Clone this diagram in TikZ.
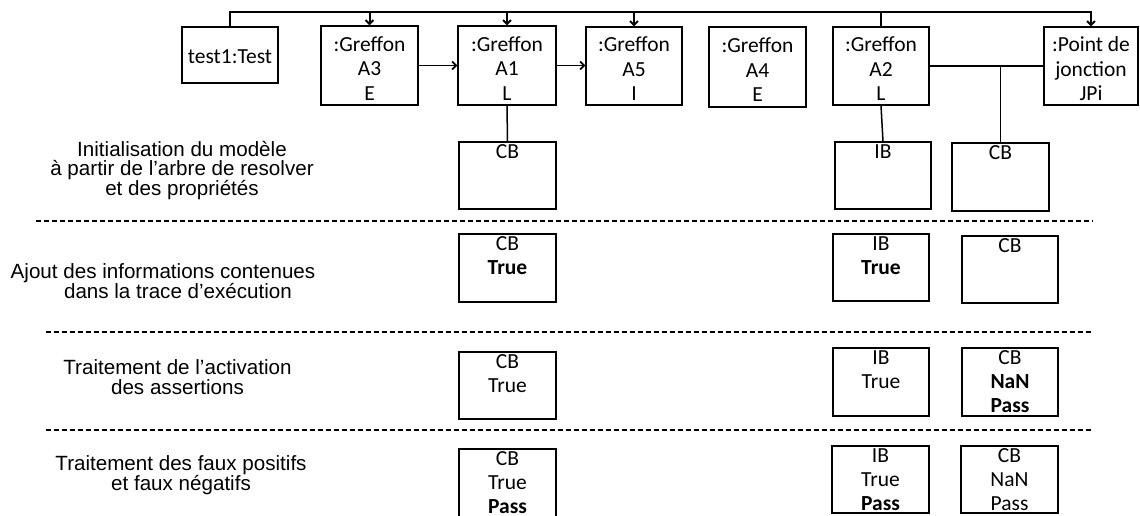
\documentclass[tikz,border=0pt]{standalone}
\usepackage{fontspec}
\newfontfamily\calfont{Carlito}
\newfontfamily\helfont{Liberation Sans}
\usetikzlibrary{arrows.meta}
\newcommand\cellbox[3]{\parbox[c][#2][t]{#1}{\centering\strut #3}}
\newcommand\topbox[4]{\parbox[c][#2][c]{#1}{\centering\vspace*{#3}#4}}
\begin{document}
\begin{tikzpicture}[x=1pt,y=-1pt,
  box/.style={draw, line width=1.1pt, inner sep=0pt, font=\calfont\fontsize{21.5}{24.5}\selectfont},
  cell/.style={draw, line width=1.1pt, inner sep=0pt, font=\calfont\fontsize{21.5}{24}\selectfont},
  lab/.style={font=\helfont\fontsize{20.6}{19.8}\selectfont, align=center, inner sep=0pt},
  conn/.style={line width=1.5pt},
  busline/.style={line width=2pt, -{Straight Barb[length=4pt,width=8pt]}},
  arr/.style={line width=1.8pt, -{Straight Barb[length=4pt,width=8pt]}},
  sep/.style={line width=1.5pt, dash pattern=on 5pt off 3pt}]
\useasboundingbox (0,0) rectangle (1140,516);

% top row
\node[box] (test) at (230,55) {\topbox{96pt}{56pt}{4pt}{test1:Test}};
\node[box] (a3) at (369.5,65.5) {\topbox{97pt}{79pt}{6pt}{:Greffon\\A3\\E}};
\node[box] (a1) at (507,65.5) {\topbox{98pt}{79pt}{6pt}{:Greffon\\A1\\L}};
\node[box] (a5) at (634,66) {\topbox{96pt}{78pt}{6pt}{:Greffon\\A5\\I}};
\node[box] (a4) at (757.5,67) {\topbox{97pt}{80pt}{6pt}{:Greffon\\A4\\E}};
\node[box] (a2) at (881,66) {\topbox{96pt}{78pt}{6pt}{:Greffon\\A2\\L}};
\node[box] (jp) at (1091,66) {\topbox{94pt}{78pt}{6pt}{:Point de\\jonction\\JPi}};

% bus
\coordinate (bus) at (0,12);
\draw[busline] (test.north) |- (jp.north |- bus) -- (jp.north);
\draw[busline] (a3.north |- bus) -- (a3.north);
\draw[busline] (a1.north |- bus) -- (a1.north);
\draw[busline] (a5.north |- bus) -- (a5.north);
\draw[line width=2pt] (a2.north |- bus) -- (a2.north);

\draw[arr] (a3.east) -- (a1.west);
\draw[arr] (a1.east) -- (a1.east -| a5.west);

% row 1
\node[cell] (r1cb) at (507.5,175.5) {\cellbox{97pt}{67pt}{CB}};
\node[cell] (r1ib) at (883,175.5) {\cellbox{96pt}{67pt}{IB}};
\node[cell] (r1cc) at (1000.5,177) {\cellbox{97pt}{68pt}{CB}};

\draw[conn] (a1.south) -- (r1cb.north);
\draw[conn] (a2.south) -- (r1ib.north);
\draw[conn] (a2.east) -- (a2.east -| jp.west);
\draw[conn] (r1cc.north) -- (r1cc.north |- a2.east);

% row 2
\node[cell] (r2cb) at (507.5,268) {\cellbox{97pt}{68pt}{CB\\ \textbf{True}}};
\node[cell] (r2ib) at (881,267.5) {\cellbox{96pt}{67pt}{IB\\ \textbf{True}}};
\node[cell] (r2cc) at (1010,269.5) {\cellbox{96pt}{67pt}{CB}};

% row 3
\node[cell] (r3cb) at (507.5,385.5) {\cellbox{97pt}{67pt}{CB\\ True}};
\node[cell] (r3ib) at (881,382) {\cellbox{96pt}{68pt}{IB\\ True}};
\node[cell] (r3cc) at (1010,382) {\cellbox{96pt}{68pt}{CB\\ \textbf{NaN}\\ \textbf{Pass}}};

% row 4
\node[cell] (r4cb) at (507.5,484) {\cellbox{97pt}{70pt}{CB\\ True\\ \textbf{Pass}}};
\node[cell] (r4ib) at (880.5,479.5) {\cellbox{97pt}{67pt}{IB\\ True\\ \textbf{Pass}}};
\node[cell] (r4cc) at (1009.5,479.5) {\cellbox{97pt}{67pt}{CB\\ NaN\\ Pass}};

% separators
\coordinate (d1a) at (36,221);  \coordinate (d1b) at (1093,221);
\coordinate (d2a) at (46,332);  \coordinate (d2b) at (1093,332);
\coordinate (d3a) at (46,430);  \coordinate (d3b) at (1093,430);
\draw[sep] (d1a) -- (d1b);
\draw[sep] (d2a) -- (d2b);
\draw[sep] (d3a) -- (d3b);

% labels
\node[lab] (l1) at (182,170.5) {Initialisation du modèle\\à partir de l’arbre de resolver\\et des propriétés};
\node[lab] (l2) at (178,281) {Ajout des informations contenues\hspace*{30pt}\\dans la trace d’exécution};
\node[lab] (l3) at (177.5,377.5) {Traitement de l’activation\\des assertions};
\node[lab] (l4) at (181,475) {Traitement des faux positifs\\et faux négatifs};
\end{tikzpicture}
\end{document}
